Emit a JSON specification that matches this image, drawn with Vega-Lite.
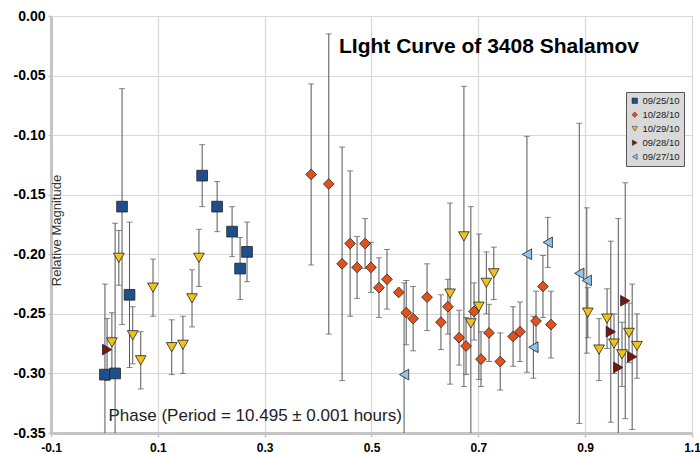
{
  "$schema": "https://vega.github.io/schema/vega-lite/v6.json",
  "width": 641,
  "height": 417,
  "autosize": {"type": "none"},
  "padding": {"left": 51, "top": 16, "right": 8, "bottom": 21},
  "background": "white",
  "title": {"text": "LIght Curve of 3408 Shalamov", "anchor": "start", "frame": "group", "dx": 288, "dy": 65, "fontSize": 21, "font": "Liberation Sans", "fontWeight": "bold", "color": "#000000", "baseline": "alphabetic", "offset": 0},
  "data": {"values": [
    {"date": "09/25/10", "phase": 0.001, "mag": -0.301, "err": 0.076},
    {"date": "09/25/10", "phase": 0.020, "mag": -0.300, "err": 0.126},
    {"date": "09/25/10", "phase": 0.033, "mag": -0.160, "err": 0.099},
    {"date": "09/25/10", "phase": 0.047, "mag": -0.234, "err": 0.061},
    {"date": "09/25/10", "phase": 0.183, "mag": -0.134, "err": 0.026},
    {"date": "09/25/10", "phase": 0.211, "mag": -0.160, "err": 0.021},
    {"date": "09/25/10", "phase": 0.239, "mag": -0.181, "err": 0.021},
    {"date": "09/25/10", "phase": 0.254, "mag": -0.212, "err": 0.026},
    {"date": "09/25/10", "phase": 0.267, "mag": -0.198, "err": 0.025},
    {"date": "10/28/10", "phase": 0.387, "mag": -0.133, "err": 0.076},
    {"date": "10/28/10", "phase": 0.420, "mag": -0.141, "err": 0.126},
    {"date": "10/28/10", "phase": 0.445, "mag": -0.208, "err": 0.098},
    {"date": "10/28/10", "phase": 0.460, "mag": -0.191, "err": 0.061},
    {"date": "10/28/10", "phase": 0.473, "mag": -0.211, "err": 0.026},
    {"date": "10/28/10", "phase": 0.488, "mag": -0.191, "err": 0.021},
    {"date": "10/28/10", "phase": 0.499, "mag": -0.211, "err": 0.021},
    {"date": "10/28/10", "phase": 0.514, "mag": -0.228, "err": 0.025},
    {"date": "10/28/10", "phase": 0.529, "mag": -0.221, "err": 0.025},
    {"date": "10/28/10", "phase": 0.551, "mag": -0.232, "err": 0.0},
    {"date": "10/28/10", "phase": 0.565, "mag": -0.249, "err": 0.027},
    {"date": "10/28/10", "phase": 0.578, "mag": -0.254, "err": 0.027},
    {"date": "10/28/10", "phase": 0.604, "mag": -0.236, "err": 0.028},
    {"date": "10/28/10", "phase": 0.630, "mag": -0.257, "err": 0.023},
    {"date": "10/28/10", "phase": 0.643, "mag": -0.244, "err": 0.023},
    {"date": "10/28/10", "phase": 0.664, "mag": -0.270, "err": 0.023},
    {"date": "10/28/10", "phase": 0.677, "mag": -0.277, "err": 0.024},
    {"date": "10/28/10", "phase": 0.692, "mag": -0.248, "err": 0.024},
    {"date": "10/28/10", "phase": 0.705, "mag": -0.288, "err": 0.023},
    {"date": "10/28/10", "phase": 0.720, "mag": -0.266, "err": 0.024},
    {"date": "10/28/10", "phase": 0.741, "mag": -0.290, "err": 0.024},
    {"date": "10/28/10", "phase": 0.765, "mag": -0.269, "err": 0.025},
    {"date": "10/28/10", "phase": 0.778, "mag": -0.265, "err": 0.025},
    {"date": "10/28/10", "phase": 0.808, "mag": -0.256, "err": 0.025},
    {"date": "10/28/10", "phase": 0.821, "mag": -0.227, "err": 0.026},
    {"date": "10/28/10", "phase": 0.836, "mag": -0.259, "err": 0.028},
    {"date": "10/29/10", "phase": 0.014, "mag": -0.274, "err": 0.025},
    {"date": "10/29/10", "phase": 0.027, "mag": -0.203, "err": 0.023},
    {"date": "10/29/10", "phase": 0.053, "mag": -0.268, "err": 0.024},
    {"date": "10/29/10", "phase": 0.068, "mag": -0.289, "err": 0.024},
    {"date": "10/29/10", "phase": 0.091, "mag": -0.228, "err": 0.024},
    {"date": "10/29/10", "phase": 0.126, "mag": -0.278, "err": 0.023},
    {"date": "10/29/10", "phase": 0.147, "mag": -0.276, "err": 0.024},
    {"date": "10/29/10", "phase": 0.164, "mag": -0.237, "err": 0.024},
    {"date": "10/29/10", "phase": 0.177, "mag": -0.203, "err": 0.024},
    {"date": "10/29/10", "phase": 0.647, "mag": -0.233, "err": 0.076},
    {"date": "10/29/10", "phase": 0.673, "mag": -0.185, "err": 0.126},
    {"date": "10/29/10", "phase": 0.686, "mag": -0.258, "err": 0.098},
    {"date": "10/29/10", "phase": 0.701, "mag": -0.244, "err": 0.061},
    {"date": "10/29/10", "phase": 0.715, "mag": -0.224, "err": 0.026},
    {"date": "10/29/10", "phase": 0.729, "mag": -0.216, "err": 0.022},
    {"date": "10/29/10", "phase": 0.905, "mag": -0.249, "err": 0.021},
    {"date": "10/29/10", "phase": 0.926, "mag": -0.280, "err": 0.026},
    {"date": "10/29/10", "phase": 0.941, "mag": -0.254, "err": 0.025},
    {"date": "10/29/10", "phase": 0.954, "mag": -0.275, "err": 0.025},
    {"date": "10/29/10", "phase": 0.969, "mag": -0.284, "err": 0.027},
    {"date": "10/29/10", "phase": 0.982, "mag": -0.266, "err": 0.025},
    {"date": "10/29/10", "phase": 0.997, "mag": -0.277, "err": 0.027},
    {"date": "09/28/10", "phase": 0.005, "mag": -0.280, "err": 0.026},
    {"date": "09/28/10", "phase": 0.948, "mag": -0.265, "err": 0.076},
    {"date": "09/28/10", "phase": 0.962, "mag": -0.295, "err": 0.125},
    {"date": "09/28/10", "phase": 0.975, "mag": -0.239, "err": 0.099},
    {"date": "09/28/10", "phase": 0.988, "mag": -0.286, "err": 0.061},
    {"date": "09/27/10", "phase": 0.561, "mag": -0.301, "err": 0.077},
    {"date": "09/27/10", "phase": 0.791, "mag": -0.200, "err": 0.099},
    {"date": "09/27/10", "phase": 0.803, "mag": -0.278, "err": 0.026},
    {"date": "09/27/10", "phase": 0.830, "mag": -0.190, "err": 0.021},
    {"date": "09/27/10", "phase": 0.889, "mag": -0.216, "err": 0.126},
    {"date": "09/27/10", "phase": 0.903, "mag": -0.222, "err": 0.061}
  ]},
  "encoding": {
    "x": {
      "field": "phase", "type": "quantitative",
      "scale": {"domain": [-0.1, 1.1], "nice": false, "zero": false},
      "axis": {
        "values": [-0.1, 0.1, 0.3, 0.5, 0.7, 0.9, 1.1],
        "labelExpr": "replace(format(datum.value, '.1f'), '\u2212', '-')",
        "labelFontSize": 12, "labelFontWeight": "bold", "labelColor": "#000000",
        "labelPadding": 5, "labelOverlap": false, "labelFlush": false,
        "title": "Phase (Period = 10.495 ± 0.001 hours)",
        "titleFontSize": 17, "titleFontWeight": "normal", "titleColor": "#222222",
        "titleX": 57, "titleY": -13, "titleAlign": "left", "titleBaseline": "alphabetic",
        "domainColor": "#c4c4c4", "domainWidth": 3,
        "tickColor": "#c4c4c4", "tickSize": 4, "tickWidth": 1.5,
        "gridColor": "#d8d8d8", "gridWidth": 1.2
      }
    },
    "y": {
      "field": "mag", "type": "quantitative",
      "scale": {"domain": [-0.35, 0], "nice": false, "zero": false},
      "axis": {
        "values": [-0.35, -0.3, -0.25, -0.2, -0.15, -0.1, -0.05, 0],
        "labelExpr": "replace(format(datum.value, '.2f'), '\u2212', '-')",
        "labelFontSize": 14, "labelFontWeight": "bold", "labelColor": "#000000",
        "labelPadding": 3, "labelOverlap": false, "labelFlush": false,
        "title": "Relative Magnitude",
        "titleFontSize": 13, "titleFontWeight": "normal", "titleColor": "#333333",
        "titleX": -1, "titleY": 214, "titleAlign": "center", "titleBaseline": "top", "titleAngle": 270,
        "domainColor": "#c4c4c4", "domainWidth": 3,
        "tickColor": "#c4c4c4", "tickSize": 3, "tickWidth": 1.5,
        "gridColor": "#d8d8d8", "gridWidth": 1.2
      }
    }
  },
  "layer": [
    {
      "mark": {"type": "errorbar", "color": "#555555", "clip": true, "ticks": {"size": 6, "color": "#555555"}, "rule": {"strokeWidth": 1}},
      "encoding": {"yError": {"field": "err"}}
    },
    {
      "mark": {"type": "point", "filled": true, "size": 115, "stroke": "#222222", "strokeWidth": 0.8, "opacity": 1, "clip": true},
      "encoding": {
        "color": {
          "field": "date", "type": "nominal",
          "scale": {"domain": ["09/25/10", "10/28/10", "10/29/10", "09/28/10", "09/27/10"], "range": ["#1f4e8c", "#e2501c", "#f2c21c", "#7a1414", "#8cc4ef"]},
          "legend": {
            "orient": "none", "legendX": 575, "legendY": 76, "title": null,
            "fillColor": "#d9d9d9", "strokeColor": "#555555", "padding": 4,
            "labelFontSize": 9.5, "labelFont": "Liberation Sans", "labelColor": "#222222",
            "symbolSize": 30, "rowPadding": 3, "labelOffset": 3, "symbolStrokeWidth": 0.5, "symbolStrokeColor": "#222222"
          }
        },
        "shape": {
          "field": "date", "type": "nominal",
          "scale": {"domain": ["09/25/10", "10/28/10", "10/29/10", "09/28/10", "09/27/10"], "range": ["square", "diamond", "triangle-down", "triangle-right", "triangle-left"]}
        }
      }
    }
  ],
  "config": {
    "view": {"stroke": null},
    "font": "Liberation Sans",
    "axis": {"labelFont": "Liberation Sans", "titleFont": "Liberation Sans"}
  }
}
